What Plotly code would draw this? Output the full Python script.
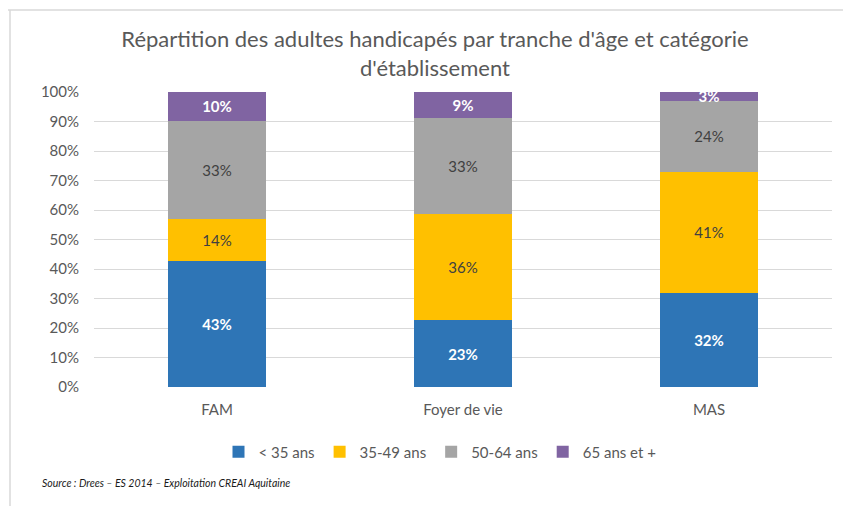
import plotly.graph_objects as go

categories = ["FAM", "Foyer de vie", "MAS"]
series_names = ["< 35 ans", "35-49 ans", "50-64 ans", "65 ans et +"]
v_lt35 = [42.7, 22.7, 32.0]
v_35_49 = [14.3, 35.8, 40.8]
v_50_64 = [33.3, 32.8, 24.3]
v_65plus = [9.7, 8.7, 2.9]
y_ticks = [0, 10, 20, 30, 40, 50, 60, 70, 80, 90, 100]

series_values = [v_lt35, v_35_49, v_50_64, v_65plus]
colors = ["#2E75B6", "#FFC000", "#A5A5A5", "#8064A2"]
label_colors = ["#FFFFFF", "#404040", "#404040", "#FFFFFF"]
label_bold = [True, False, False, True]

FONT = "Lato"
W, H = 843, 506
ml, mr, mt, mb = 94, 11, 92, 119
pw, ph = W - ml - mr, H - mt - mb

fig = go.Figure()
for name, vals, col, lc, b in zip(series_names, series_values, colors, label_colors, label_bold):
    fig.add_trace(go.Bar(
        x=categories, y=vals, name=name,
        marker=dict(color=col, line=dict(width=0)),
        text=[f"{round(v):d}%" for v in vals],
        textposition="inside", insidetextanchor="middle",
        textfont=dict(family=FONT, size=15, color=lc, weight="bold" if b else "normal"),
        hoverinfo="skip",
    ))

def px(x):
    return (x - ml) / pw

def py(y):
    return (H - mb - y) / ph

fig.update_layout(
    width=W, height=H,
    margin=dict(l=ml, r=mr, t=mt, b=mb),
    barmode="stack", bargap=0.6,
    paper_bgcolor="white", plot_bgcolor="white",
    font=dict(family=FONT, color="#595959"),
    uniformtext=dict(minsize=15, mode="show"),
    title=dict(
        text="Répartition des adultes handicapés par tranche d'âge et catégorie<br>d'établissement",
        x=px(435), xref="paper", xanchor="center",
        y=1 - 47 / H, yanchor="top",
        font=dict(family=FONT, size=22, color="#595959"),
    ),
    xaxis=dict(
        showgrid=False, showline=False, ticks="",
        tickfont=dict(family=FONT, size=15, color="#595959"),
        ticklabelstandoff=12,
    ),
    yaxis=dict(
        range=[0, 100], tickvals=y_ticks, ticktext=[f"{t}%" for t in y_ticks],
        showgrid=True, gridcolor="#D9D9D9", gridwidth=1,
        zeroline=False, showline=False, ticks="",
        tickfont=dict(family=FONT, size=15, color="#595959"),
        ticklabelstandoff=14,
    ),
    legend=dict(
        orientation="h", x=px(440), xanchor="center", y=py(452), yanchor="middle",
        font=dict(family=FONT, size=15, color="#595959"),
        traceorder="normal", itemwidth=30,
    ),
    shapes=[
        dict(type="line", xref="paper", yref="paper",
             x0=px(8), x1=px(860), y0=py(10), y1=py(10),
             line=dict(color="#D9D9D9", width=1.5)),
        dict(type="line", xref="paper", yref="paper",
             x0=px(10), x1=px(10), y0=py(10), y1=py(520),
             line=dict(color="#D9D9D9", width=1.5)),
    ],
    annotations=[
        dict(text="<i>Source : Drees – ES 2014 – Exploitation CREAI Aquitaine</i>",
             xref="paper", yref="paper", x=px(40), y=py(483),
             xanchor="left", yanchor="middle", showarrow=False,
             font=dict(family=FONT, size=10.5, color="#1a1a1a")),
    ],
)

fig.write_html("out.html", config={"displayModeBar": False},
               post_script="document.body.style.margin='0';")
